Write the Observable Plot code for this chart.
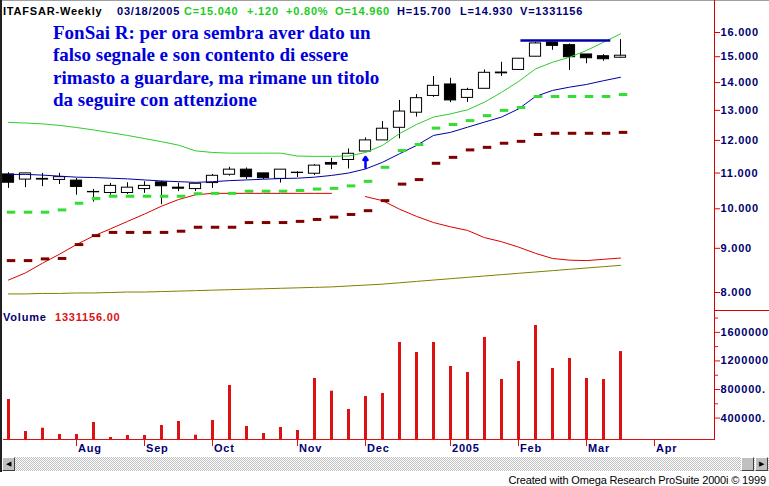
<!DOCTYPE html>
<html><head><meta charset="utf-8">
<script src="https://cdn.jsdelivr.net/npm/d3@7"></script>
<script src="https://cdn.jsdelivr.net/npm/@observablehq/plot@0.6"></script>
<style>
html,body{margin:0;padding:0;background:#fff;overflow:hidden;}
#chart{position:relative;width:769px;height:486px;overflow:hidden;background:#fff;}
.box{position:absolute;left:0;}
.box svg text{font-family:"Liberation Sans",Arial,sans-serif;font-weight:bold;font-size:11px;letter-spacing:0.8px;}
.box svg text.vol{letter-spacing:0.6px;}
.hdr{position:absolute;top:5px;font:bold 11px/13px "Liberation Sans",Arial,sans-serif;letter-spacing:0.8px;white-space:pre;}
.note{position:absolute;left:53px;top:22px;font:bold 19px/22.3px "Liberation Serif","Times New Roman",serif;color:#0000dd;white-space:pre;}
.line{position:absolute;}
.scroll{position:absolute;left:2px;top:457px;width:767px;height:14px;
  background-color:#fff;background-image:repeating-conic-gradient(#c0c0c0 0 25%,#ffffff 0 50%);background-size:2px 2px;}
.btn{position:absolute;top:0;width:11px;height:12px;background:#c0c0c0;border-top:1px solid #fff;border-left:1px solid #fff;border-right:1px solid #404040;border-bottom:1px solid #404040;font:7px/12px Arial,sans-serif;color:#000;text-align:center;}
.credit{position:absolute;right:3px;top:473px;font:11px/14px "Liberation Sans",Arial,sans-serif;color:#000;white-space:pre;letter-spacing:-0.15px;}
</style>
</head><body>
<div id="chart">
  <div id="price" class="box" style="top:0;"></div>
  <div id="volume" class="box" style="top:310px;"></div>

  <div class="line" style="left:0;top:0;width:769px;height:1px;background:#a0a0a0;"></div>
  <div class="line" style="left:0;top:0;width:2px;height:472px;background:#202020;"></div>
  <div class="line" style="left:714px;top:0;width:1px;height:440px;background:#dd0000;"></div>
  <div class="line" style="left:714px;top:310px;width:55px;height:1px;background:#dd0000;"></div>

  <span class="hdr" style="left:3px;color:#000;">ITAFSAR-Weekly</span>
  <span class="hdr" style="left:117px;color:#000070;">03/18/2005</span>
  <span class="hdr" style="left:184px;color:#22cc22;">C=15.040</span>
  <span class="hdr" style="left:247px;color:#22cc22;">+.120</span>
  <span class="hdr" style="left:286px;color:#22cc22;">+0.80%</span>
  <span class="hdr" style="left:335px;color:#22cc22;">O=14.960</span>
  <span class="hdr" style="left:397px;color:#000070;">H=15.700</span>
  <span class="hdr" style="left:460px;color:#000070;">L=14.930</span>
  <span class="hdr" style="left:520px;color:#000070;">V=1331156</span>

  <div class="note">FonSai R: per ora sembra aver dato un
falso segnale e son contento di essere
rimasto a guardare, ma rimane un titolo
da seguire con attenzione</div>

  <span class="hdr" style="left:3px;top:311px;color:#000070;">Volume</span>
  <span class="hdr" style="left:55px;top:311px;color:#dd1111;">1331156.00</span>

  <div class="scroll">
    <div class="btn" style="left:0;">&#9664;</div>
    <div class="btn" style="left:739px;"></div>
    <div class="btn" style="left:753px;">&#9654;</div>
  </div>
  <div class="credit">Created with Omega Research ProSuite 2000i © 1999</div>
</div>
<script>
// ---- data (weekly bars, ITAFSAR) ----
const weeks = ["2004-07-09","2004-07-16","2004-07-23","2004-07-30","2004-08-06","2004-08-13","2004-08-20","2004-08-27",
  "2004-09-03","2004-09-10","2004-09-17","2004-09-24","2004-10-01","2004-10-08","2004-10-15","2004-10-22","2004-10-29",
  "2004-11-05","2004-11-12","2004-11-19","2004-11-26","2004-12-03","2004-12-10","2004-12-17","2004-12-24","2004-12-31",
  "2005-01-07","2005-01-14","2005-01-21","2005-01-28","2005-02-04","2005-02-11","2005-02-18","2005-02-25",
  "2005-03-04","2005-03-11","2005-03-18"];
const opens  = [10.96,10.81,10.83,10.80,10.78,10.46,10.43,10.43,10.54,10.73,10.58,10.54,10.71,10.95,11.10,10.99,10.83,11.00,10.98,11.30,11.39,11.65,12.00,12.41,12.92,13.51,13.93,13.44,13.77,14.38,14.48,15.00,15.58,15.47,15.09,15.02,14.96];
const highs  = [11.01,10.99,10.99,10.99,10.84,10.53,10.70,10.72,10.75,10.76,10.71,10.69,10.96,11.17,11.15,10.99,11.10,11.04,11.25,11.44,11.73,12.08,12.62,13.35,13.56,14.23,14.16,13.79,14.48,14.78,14.92,15.58,15.58,15.52,15.09,15.08,15.70];
const lows   = [10.56,10.58,10.61,10.67,10.37,10.18,10.37,10.39,10.42,10.11,10.47,10.47,10.56,10.91,10.81,10.81,10.71,10.87,10.93,11.10,11.12,11.65,12.00,12.05,12.77,13.46,13.27,13.28,13.77,14.23,14.48,15.00,15.26,14.46,14.72,14.82,14.93];
const closes = [10.72,10.99,10.81,10.88,10.60,10.45,10.63,10.58,10.63,10.62,10.55,10.69,10.92,11.10,10.88,10.85,11.10,11.01,11.22,11.25,11.58,12.00,12.38,12.96,13.43,13.88,13.35,13.73,14.37,14.35,14.92,15.54,15.44,14.98,14.94,14.90,15.04];
const volumes = [660000,212000,258000,170000,170000,338000,128000,156000,156000,296000,352000,160000,366000,856000,282000,184000,268000,226000,954000,776000,520000,702000,744000,1458000,1318000,1458000,1122000,1038000,1528000,940000,1192000,1696000,1094000,1234000,954000,940000,1331156];
const upperBand = [12.59,12.57,12.54,12.49,12.42,12.34,12.25,12.16,12.06,11.96,11.85,11.67,11.62,11.60,11.60,11.60,11.60,11.51,11.50,11.50,11.51,11.62,11.84,12.22,12.52,12.77,12.88,13.02,13.29,13.64,14.04,14.52,14.78,14.98,15.25,15.59,15.94];
const average   = [10.96,10.96,10.94,10.91,10.88,10.87,10.85,10.83,10.80,10.77,10.75,10.73,10.75,10.78,10.80,10.82,10.84,10.85,10.88,10.93,11.00,11.12,11.32,11.58,11.84,12.16,12.26,12.43,12.60,12.77,13.05,13.49,13.71,13.83,13.93,14.07,14.20];
const lowerBand = [8.27,8.43,8.65,8.86,9.09,9.30,9.48,9.67,9.86,10.07,10.25,10.38,10.42,10.42,10.42,10.42,10.42,10.42,10.42,10.42,null,10.33,10.22,9.99,9.80,9.64,9.53,9.44,9.26,9.16,9.03,8.88,8.76,8.72,8.71,8.74,8.77];
const longAverage = [7.97,7.97,7.98,7.98,7.99,7.99,8.00,8.01,8.01,8.02,8.03,8.04,8.05,8.06,8.07,8.08,8.09,8.10,8.11,8.12,8.14,8.16,8.18,8.21,8.24,8.27,8.30,8.33,8.36,8.39,8.42,8.45,8.48,8.51,8.54,8.57,8.60];
const greenStop  = [9.91,9.91,9.91,9.97,10.15,10.28,10.34,10.34,10.34,10.34,10.34,10.41,10.42,10.42,10.48,10.48,10.48,10.50,10.54,10.56,10.63,10.76,11.17,11.68,11.87,12.40,12.52,12.65,12.82,13.00,13.10,13.49,13.49,13.49,13.49,13.49,13.56];
const maroonStop = [8.71,8.71,8.75,8.76,9.09,9.31,9.39,9.39,9.39,9.39,9.42,9.52,9.52,9.52,9.64,9.64,9.64,9.67,9.72,9.78,9.85,9.95,10.22,10.68,10.81,11.29,11.47,11.70,11.78,11.91,11.97,12.19,12.23,12.23,12.23,12.23,12.26];
const resistance = [{from: "2005-02-05", to: "2005-03-14", level: 15.66}];
const signal = [{week: "2004-12-03", from: 11.16, to: 11.48}];
const priceTicks = [8, 9, 10, 11, 12, 13, 14, 15, 16];
const volumeTicks = [400000, 800000, 1200000, 1600000];
const volumeTickLabels = ["400000.", "800000.", "1200000", "1600000"]; // as visible at the window edge
const volumeMinorTicks = [600000, 1000000, 1400000, 1800000];
const monthTickDates = ["2004-08-06","2004-09-03","2004-10-01","2004-11-05","2004-12-03","2005-01-07","2005-02-04","2005-03-04","2005-04-01"];
const monthTickLabels = ["Aug","Sep","Oct","Nov","Dec","2005","Feb","Mar","Apr"];

// ---- build tables ----
const day = 864e5;
const dates = weeks.map(s => new Date(s));
const rows = dates.map((d, i) => ({
  date: d, open: opens[i], high: highs[i], low: lows[i], close: closes[i], volume: volumes[i],
  upper: upperBand[i], avg: average[i], lower: lowerBand[i], slow: longAverage[i],
  gstop: greenStop[i], mstop: maroonStop[i]
}));
const monthTicks = monthTickDates.map((s, i) => ({date: new Date(s), label: monthTickLabels[i]}));
const volTicks = volumeTicks.map((v, i) => ({value: v, label: volumeTickLabels[i]}));
const xScale = {type: "utc", domain: [dates[0], dates[dates.length - 1]], range: [8, 620], axis: null};
const shift = (d, days) => new Date(+d + days * day);
const fmt3 = d3.format(".3f");

const navy = "#000070", red = "#dd1111";

const price = Plot.plot({
  width: 769, height: 310,
  marginLeft: 3, marginRight: 55, marginTop: 0, marginBottom: 0,
  style: {background: "transparent"},
  x: xScale,
  y: {type: "log", domain: [8, 16], range: [292, 32], axis: null},
  marks: [
    Plot.ruleX(rows, {x: "date", y1: "low", y2: "high", stroke: "#000", strokeWidth: 1}),
    Plot.rect(rows, {
      x1: d => shift(d.date, -2.3), x2: d => shift(d.date, 2.3),
      y1: d => Math.min(d.open, d.close), y2: d => Math.max(d.open, d.close),
      fill: d => d.close >= d.open ? "#ffffff" : "#000000", stroke: "#000", strokeWidth: 1
    }),
    Plot.line(rows, {x: "date", y: "slow", stroke: "#808000", strokeWidth: 1}),
    Plot.line(rows, {x: "date", y: "lower", stroke: "#dd0000", strokeWidth: 1}),
    Plot.line(rows, {x: "date", y: "upper", stroke: "#2ecc2e", strokeWidth: 1}),
    Plot.line(rows, {x: "date", y: "avg", stroke: "#0000a0", strokeWidth: 1}),
    Plot.ruleY(rows, {y: "gstop", x1: d => shift(d.date, -0.5), x2: d => shift(d.date, 3), stroke: "#33dd33", strokeWidth: 3}),
    Plot.ruleY(rows, {y: "mstop", x1: d => shift(d.date, -0.5), x2: d => shift(d.date, 3), stroke: "#800000", strokeWidth: 3}),
    Plot.ruleY(resistance, {y: "level", x1: d => new Date(d.from), x2: d => new Date(d.to), stroke: "#0000b0", strokeWidth: 2.5}),
    Plot.arrow(signal, {x: d => new Date(d.week), y1: "from", y2: "to", stroke: "#0000ff", strokeWidth: 2.5, headLength: 6, headAngle: 70}),
    Plot.axisY(priceTicks, {anchor: "right", tickSize: 5, stroke: "#dd0000", fill: "none", label: null}),
    Plot.text(priceTicks, {y: d => d, text: d => fmt3(d), frameAnchor: "right", dx: 6, textAnchor: "start", fill: navy})
  ]
});
document.getElementById("price").appendChild(price);

const volume = Plot.plot({
  width: 769, height: 146,
  marginLeft: 3, marginRight: 55, marginTop: 0, marginBottom: 17,
  style: {background: "transparent"},
  x: xScale,
  y: {domain: [100000, 1700000], range: [129, 14.7], axis: null},
  marks: [
    Plot.ruleX(rows, {x: "date", y1: 100000, y2: "volume", stroke: red, strokeWidth: 3}),
    Plot.ruleY([100000], {stroke: red, strokeWidth: 1}),
    Plot.axisX(monthTicks.map(d => d.date), {anchor: "bottom", tickSize: 7, stroke: red, fill: "none", label: null}),
    Plot.text(monthTicks, {x: "date", text: "label", frameAnchor: "bottom", dy: 12, dx: 1.5, textAnchor: "start", fill: navy}),
    Plot.axisY(volumeTicks, {anchor: "right", tickSize: 5, stroke: red, fill: "none", label: null}),
    Plot.text(volTicks, {y: "value", text: "label", frameAnchor: "right", dx: 6, textAnchor: "start", fill: navy, className: "vol"}),
    Plot.axisY(volumeMinorTicks, {anchor: "right", tickSize: 3, stroke: red, fill: "none", label: null})
  ]
});
document.getElementById("volume").appendChild(volume);
</script>
</body></html>
